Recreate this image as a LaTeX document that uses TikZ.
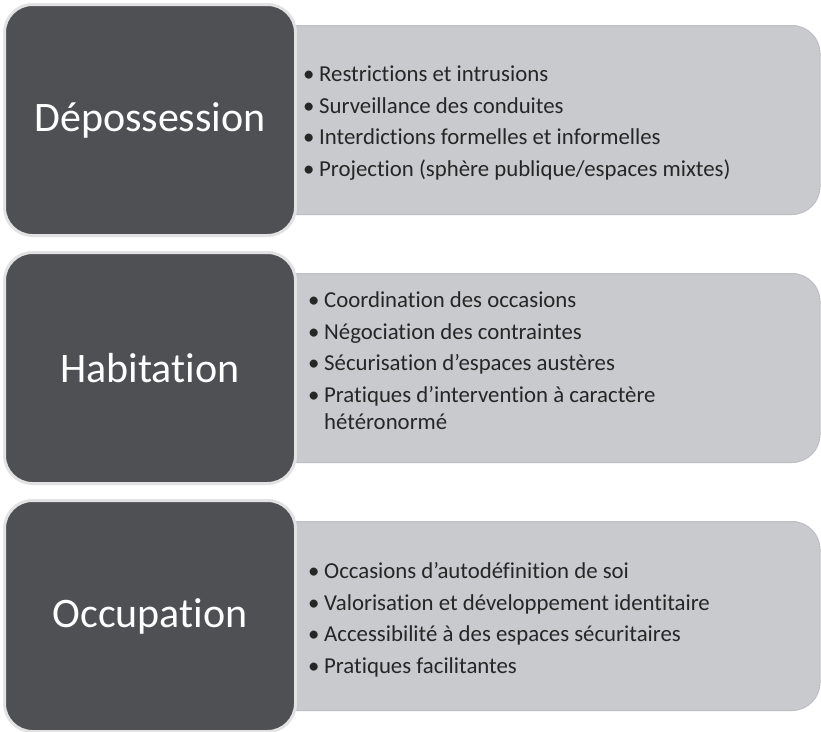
\documentclass[tikz,border=0pt]{standalone}
\usepackage{fontspec}
\setmainfont{Carlito}[Ligatures=NoCommon]
\definecolor{darkfill}{HTML}{4F5053}
\definecolor{darkborder}{HTML}{E2E2E3}
\definecolor{lightfill}{HTML}{C9CACD}
\definecolor{lightborder}{HTML}{BEBFC2}
\definecolor{bodytext}{HTML}{262626}
\newcommand{\bl}{\makebox[16pt][l]{•}}
\newcommand{\bli}{\makebox[16pt][l]{}}
\begin{document}
\begin{tikzpicture}[x=1pt,y=-1pt,
  darkbox/.style={draw=darkborder, line width=3pt, fill=darkfill, rounded corners=28pt,
    minimum width=291pt, minimum height=231pt, inner sep=0pt,
    text=white, font=\fontsize{42}{46}\selectfont},
  lightbox/.style={draw=lightborder, line width=1pt, fill=lightfill, rounded corners=28pt,
    minimum width=620pt, minimum height=189pt, inner sep=0pt},
  bullets/.style={anchor=west, inner sep=0pt, align=left, text=bodytext,
    font=\fontsize{22.8}{31.5}\selectfont}]
\useasboundingbox (0,0) rectangle (821,731);
% light boxes
\node[lightbox] (g1) at (510,120) {};
\node[lightbox] (g2) at (510,368) {};
\node[lightbox] (g3) at (510,616) {};
% dark boxes
\node[darkbox] (d1) at (150,120) {Dépossession};
\node[darkbox] (d2) at (150,368) {Habitation};
\node[darkbox] (d3) at (150,616) {Occupation};
% bullet lists
\node[bullets] (t1) at (303,123) {\bl Restrictions et intrusions\\
\bl Surveillance des conduites\\
\bl Interdictions formelles et informelles\\
\bl Projection (sphère publique/espaces mixtes)};
\node[bullets] (t2) at (308,361) {\bl Coordination des occasions\\
\bl Négociation des contraintes\\
\bl Sécurisation d’espaces austères\\
\bl Pratiques d’intervention à caractère\\[-4pt]
\bli hétéronormé};
\node[bullets] (t3) at (308,620) {\bl Occasions d’autodéfinition de soi\\
\bl Valorisation et développement identitaire\\
\bl Accessibilité à des espaces sécuritaires\\
\bl Pratiques facilitantes};
\end{tikzpicture}
\end{document}
